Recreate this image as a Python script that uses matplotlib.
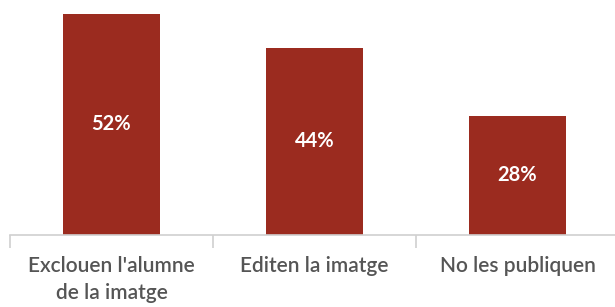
import matplotlib.pyplot as plt
import numpy as np

categories = ["Exclouen l'alumne\nde la imatge", "Editen la imatge", "No les publiquen"]
values = [52, 44, 28]

bar_color = '#9b2b1f'
text_color = '#555555'

fig = plt.figure(figsize=(6.15, 3.07), dpi=100)
ax = fig.add_axes([10 / 615, 72 / 307, 609 / 615, 234 / 307])

x = np.arange(len(categories))
bars = ax.bar(x, values, width=0.48, color=bar_color)

for xi, v in zip(x, values):
    ax.text(xi, v / 2, f'{v}%', ha='center', va='center', color='white',
            fontsize=14.5, fontweight='bold', family='Lato')

ax.set_xlim(-0.5, len(categories) - 0.5)
ax.set_ylim(0, 55)

for s in ['top', 'right', 'left']:
    ax.spines[s].set_visible(False)
ax.spines['bottom'].set_color('#d0d0d0')
ax.spines['bottom'].set_linewidth(1.2)

ax.set_yticks([])
ax.set_xticks(x)
ax.set_xticklabels(categories, fontsize=15, color=text_color, family='Lato',
                   fontweight='semibold', linespacing=1.45, va='top')
ax.tick_params(axis='x', which='major', length=0, pad=15)
ax.set_xticks(np.arange(-0.5, len(categories), 1), minor=True)
ax.tick_params(axis='x', which='minor', length=9, width=1.2, color='#d0d0d0')

fig.savefig('out.png', dpi=100)
